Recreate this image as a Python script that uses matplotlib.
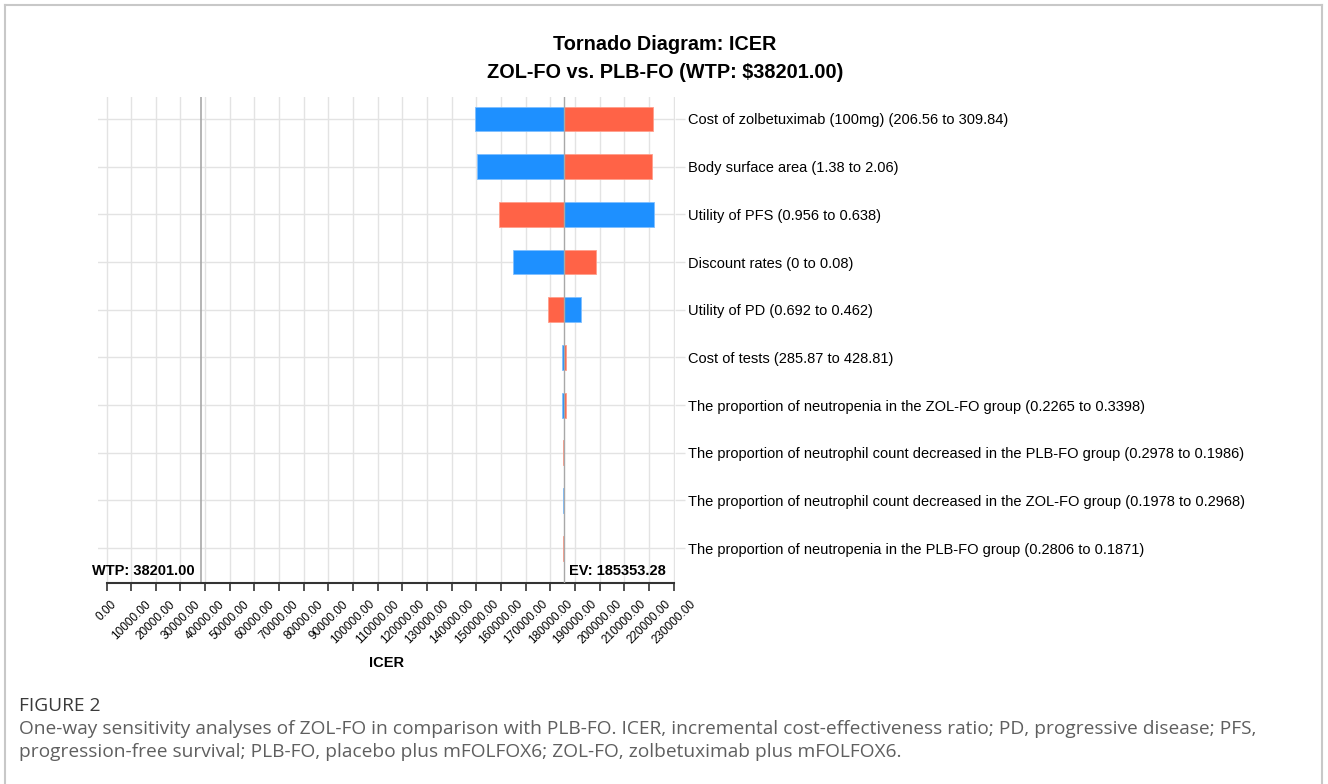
import matplotlib
matplotlib.use("Agg")
import matplotlib.pyplot as plt
from matplotlib.lines import Line2D
import numpy as np

# one-way sensitivity inputs, top to bottom
params = [
    "Cost of zolbetuximab (100mg) (206.56 to 309.84)",
    "Body surface area (1.38 to 2.06)",
    "Utility of PFS (0.956 to 0.638)",
    "Discount rates (0 to 0.08)",
    "Utility of PD (0.692 to 0.462)",
    "Cost of tests (285.87 to 428.81)",
    "The proportion of neutropenia in the ZOL-FO group (0.2265 to 0.3398)",
    "The proportion of neutrophil count decreased in the PLB-FO group (0.2978 to 0.1986)",
    "The proportion of neutrophil count decreased in the ZOL-FO group (0.1978 to 0.2968)",
    "The proportion of neutropenia in the PLB-FO group (0.2806 to 0.1871)",
]
icer_low = [149600, 150200, 222100, 165000, 192400, 184800, 184800, 185600, 185000, 185600]   # blue
icer_high = [221700, 221200, 159100, 198300, 178900, 186200, 186200, 185000, 185600, 185100]  # red

ev = 185353.28
wtp = 38201.00
xticks = np.arange(0, 230001, 10000)

blue = "#1E90FF"
red = "#FF6347"
grid_col = "#e3e3e3"

plt.rcParams['font.family'] = ['Liberation Sans', 'DejaVu Sans']

fig = plt.figure(figsize=(13.28, 7.84), dpi=100)
ax = fig.add_axes([98 / 1328, 201 / 784, 577 / 1328, 486 / 784])

ypos = np.arange(len(params))[::-1]
for y, lo, hi in zip(ypos, icer_low, icer_high):
    ax.barh(y, lo - ev, left=ev, height=0.52, color=blue, edgecolor="#7fbfff", linewidth=0.6, zorder=3)
    ax.barh(y, hi - ev, left=ev, height=0.52, color=red, edgecolor="#ff9f8c", linewidth=0.6, zorder=3)

ax.axvline(wtp, color="#a8a8a8", lw=1.2, zorder=2)
ax.axvline(ev, color="#a8a8a8", lw=1.0, zorder=4)

ax.set_xlim(-3450, 230500)
ax.set_ylim(-0.73, 9.46)
ax.set_xticks(xticks)
ax.set_xticklabels(["%.2f" % v for v in xticks], rotation=45, ha="center", va="top",
                   fontsize=8.5)
ax.set_yticks(ypos)
ax.set_yticklabels(params, fontsize=10.5)
ax.yaxis.tick_right()
ax.tick_params(axis="y", length=7, color=grid_col, width=1, pad=2.5)
ax.tick_params(axis="x", length=6, color="#333333", width=1.2, pad=5)

ax.grid(True, color=grid_col, lw=1, zorder=0)
ax.set_axisbelow(True)
for s in ["top", "left", "right"]:
    ax.spines[s].set_visible(False)
ax.spines["bottom"].set_bounds(0, 230000)
ax.spines["bottom"].set_color("#333333")
ax.spines["bottom"].set_linewidth(1.5)

ax.text(wtp - 2500, -0.48, "WTP: 38201.00", ha="right", va="center", fontsize=10.5, fontweight="bold")
ax.text(ev + 2000, -0.48, "EV: 185353.28", ha="left", va="center", fontsize=10.5, fontweight="bold")
ax.set_xlabel("ICER", fontsize=10.5, fontweight="bold", labelpad=7)

fig.text(665 / 1328, 1 - 45 / 784, "Tornado Diagram: ICER", ha="center", va="center",
         fontsize=14.3, fontweight="bold")
fig.text(665 / 1328, 1 - 72 / 784, "ZOL-FO vs. PLB-FO (WTP: $38201.00)", ha="center", va="center",
         fontsize=14.3, fontweight="bold")

# caption
cap_font = ['Open Sans', 'DejaVu Sans']
fig.text(19 / 1328, 1 - 706 / 784, "FIGURE 2", ha="left", va="center", fontsize=13.8,
         color="#3a3a3a", family=cap_font)
fig.text(19 / 1328, 1 - 729 / 784,
         "One-way sensitivity analyses of ZOL-FO in comparison with PLB-FO. ICER, incremental cost-effectiveness ratio; PD, progressive disease; PFS,",
         ha="left", va="center", fontsize=13.8, color="#5f5f5f", family=cap_font)
fig.text(19 / 1328, 1 - 752 / 784,
         "progression-free survival; PLB-FO, placebo plus mFOLFOX6; ZOL-FO, zolbetuximab plus mFOLFOX6.",
         ha="left", va="center", fontsize=13.8, color="#5f5f5f", family=cap_font)

# frame around the figure panel
fig.add_artist(Line2D([4.5 / 1328, 4.5 / 1328], [0, 1 - 5 / 784], transform=fig.transFigure, color="#c8c8c8", lw=1.5))
fig.add_artist(Line2D([4.5 / 1328, 1322 / 1328], [1 - 5 / 784, 1 - 5 / 784], transform=fig.transFigure, color="#c8c8c8", lw=1.5))
fig.add_artist(Line2D([1322 / 1328, 1322 / 1328], [0, 1 - 5 / 784], transform=fig.transFigure, color="#c8c8c8", lw=1.5))

fig.savefig("out.png", dpi=100)
